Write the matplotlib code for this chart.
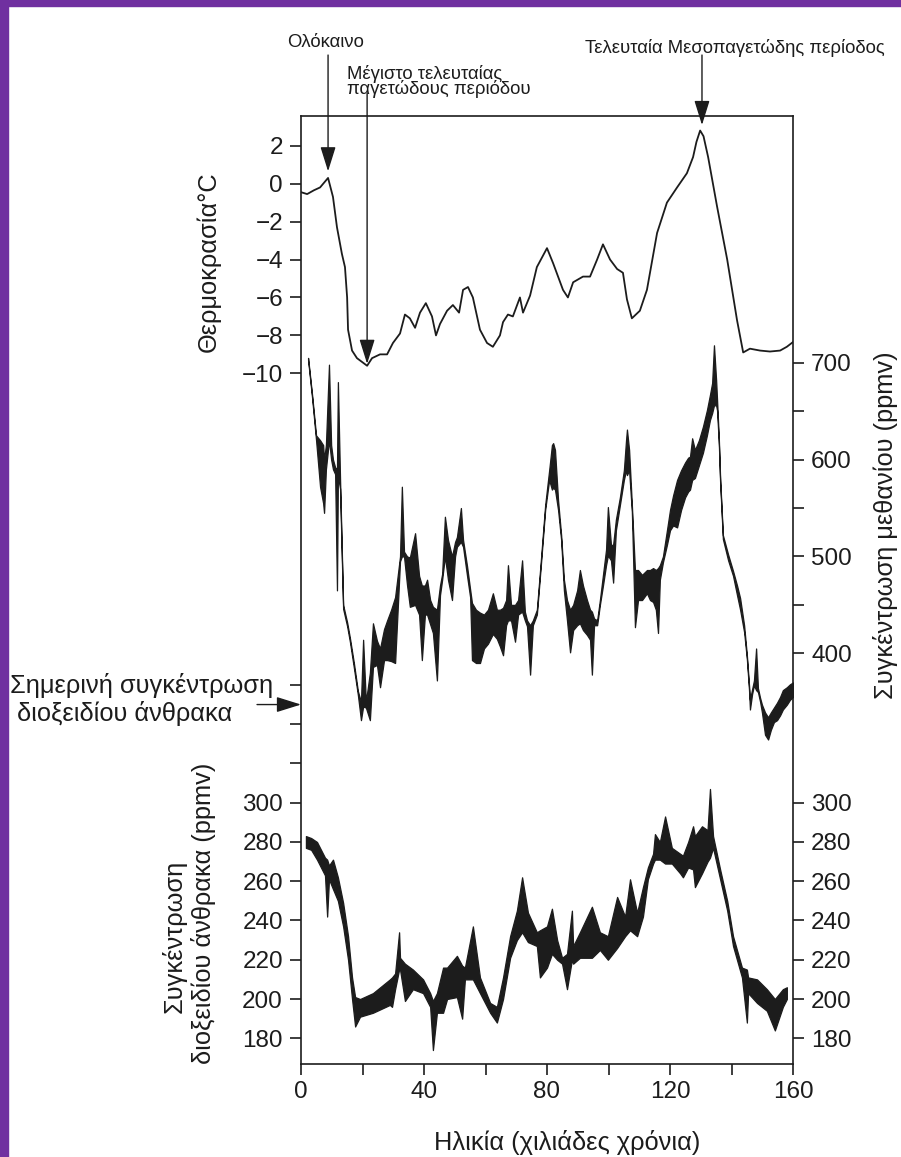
import matplotlib.pyplot as plt
from matplotlib.patches import Rectangle

plt.rcParams['font.family'] = ['Liberation Sans', 'DejaVu Sans']

# temperature (deg C) against age (thousand years)
temp_age = [0.0, 2.0, 4.2, 6.2, 8.8, 10.4, 11.7, 13.3, 14.3, 15.0, 15.3, 16.6, 18.2, 21.5, 23.1,
            25.7, 28.0, 29.9, 32.2, 33.8, 35.4, 37.1, 38.7, 40.6, 42.6, 43.9, 45.2, 47.5, 49.4,
            51.4, 52.7, 54.3, 55.9, 58.2, 60.5, 62.4, 64.7, 65.7, 67.3, 68.9, 71.2, 72.2, 74.5,
            76.7, 80.0, 82.0, 85.2, 86.8, 88.5, 91.7, 94.0, 96.3, 98.2, 100.5, 102.8, 104.7, 106.0,
            107.6, 110.2, 112.5, 115.8, 119.0, 122.3, 125.5, 127.5, 128.6, 129.8, 130.9, 132.4,
            135.3, 138.6, 141.8, 143.8, 146.0, 149.3, 152.5, 155.8, 158.0, 160.0]
temp_val = [-0.45, -0.55, -0.35, -0.2, 0.3, -0.7, -2.3, -3.7, -4.4, -6.0, -7.7, -8.8, -9.2, -9.6, -9.2,
            -9.0, -9.0, -8.4, -7.9, -6.9, -7.1, -7.6, -6.8, -6.3, -7.0, -8.0, -7.4, -6.7, -6.4,
            -6.8, -5.6, -5.45, -6.0, -7.7, -8.4, -8.6, -8.0, -7.3, -6.9, -7.0, -6.0, -6.8, -5.9,
            -4.4, -3.4, -4.2, -5.6, -6.0, -5.2, -4.9, -4.9, -4.0, -3.2, -4.0, -4.5, -4.7, -6.1,
            -7.1, -6.7, -5.6, -2.6, -1.0, -0.2, 0.55, 1.4, 2.2, 2.8, 2.5, 1.4,
            -1.2, -4.0, -7.2, -8.9, -8.7, -8.8, -8.85, -8.8, -8.6, -8.35]

# methane band (lower / upper edge)
ch4_age = [2.3, 3.6, 4.9, 6.2, 7.2, 7.5, 8.1, 9.1, 9.8, 10.4, 11.1, 11.7, 12.0, 12.7, 13.7, 15.0,
           15.9, 17.2, 18.5, 19.5, 20.2, 21.1, 22.4, 23.4, 24.7, 25.7, 27.0, 28.0, 29.3, 30.6, 32.2,
           32.8, 33.5, 34.5, 35.4, 37.1, 38.4, 39.3, 40.3, 41.0, 42.0, 42.9, 44.2, 45.2, 45.9, 46.8,
           47.8, 49.1, 50.1, 50.7, 52.0, 52.7, 54.0, 55.0, 55.6, 56.9, 58.2, 59.5, 60.8, 62.4, 63.7,
           64.7, 65.7, 66.7, 67.3, 68.3, 69.6, 70.6, 71.9, 72.8, 73.5, 74.5, 75.4, 76.7, 78.0, 79.4,
           80.7, 81.6, 82.0, 82.6, 83.6, 84.6, 85.5, 86.5, 87.5, 88.5, 89.8, 90.7, 91.7, 93.0, 94.0,
           94.6, 95.3, 96.3, 97.2, 98.2, 99.2, 99.8, 100.8, 101.5, 102.4, 103.7, 105.0, 105.7, 106.0,
           106.7, 107.6, 108.6, 109.6, 110.9, 112.5, 113.5, 114.5, 115.4, 116.1, 116.7, 117.7, 119.0,
           120.0, 121.0, 122.3, 123.6, 124.9, 125.9, 126.5, 127.2, 128.1, 129.4, 130.7, 132.0, 133.0,
           133.7, 134.3, 135.0, 135.3, 135.9, 136.3, 137.2, 138.9, 140.5, 141.8, 142.8, 144.1, 145.0,
           145.7, 146.0, 146.7, 147.3, 148.0, 148.6, 149.3, 149.9, 150.9, 151.9, 152.8, 153.8, 154.8,
           155.8, 156.7, 158.0, 159.0, 160.0]
ch4_low = [703, 664, 620, 572, 555, 545, 590, 620, 600, 590, 585, 465, 583, 570, 446, 428,
           412, 385, 357, 331, 345, 344, 331, 386, 388, 365, 393, 393, 392, 390, 495,
           500, 500, 470, 448, 450, 440, 393, 440, 440, 430, 421, 372, 460, 476, 500,
           476, 455, 500, 510, 515, 510, 480, 458, 393, 390, 390, 405, 410, 420, 415,
           407, 398, 429, 434, 434, 412, 440, 443, 434, 428, 378, 429, 440, 491, 548,
           579, 569, 571, 569, 548, 517, 465, 434, 401, 424, 429, 431, 424, 419, 414,
           378, 429, 429, 450, 470, 491, 501, 496, 473, 527, 553, 579, 589, 584,
           589, 546, 427, 455, 455, 462, 455, 453, 445, 421, 476, 494, 512,
           527, 532, 530, 548, 561, 567, 569, 579, 581, 594, 607, 625, 641,
           648, 656, 656, 651, 615, 577, 518, 496, 480, 460, 445, 422, 394,
           362, 342, 358, 367, 362, 360, 350, 339, 316, 311, 321, 329, 331,
           336, 342, 347, 352, 355]
ch4_high = [705, 667, 625, 620, 615, 600, 615, 698, 615, 600, 592, 590, 680, 580, 450, 432,
            416, 390, 361, 350, 414, 350, 380, 431, 413, 405, 425, 434, 445, 458, 500,
            572, 505, 500, 499, 524, 480, 470, 470, 476, 455, 448, 445, 470, 482, 541,
            517, 500, 515, 520, 550, 517, 490, 466, 452, 445, 442, 440, 445, 462, 445,
            445, 447, 455, 491, 450, 450, 455, 496, 443, 434, 429, 434, 445, 496, 553,
            589, 615, 617, 610, 558, 522, 476, 455, 445, 450, 465, 486, 470, 455, 445,
            443, 436, 434, 455, 481, 507, 551, 512, 512, 538, 561, 589, 620, 631,
            610, 553, 486, 486, 481, 486, 486, 488, 486, 488, 491, 500, 527,
            548, 563, 579, 589, 597, 602, 603, 622, 610, 620, 634, 651, 667,
            679, 718, 682, 662, 620, 581, 522, 502, 485, 470, 457, 429, 398,
            367, 352, 363, 372, 405, 364, 354, 347, 339, 334, 339, 344, 349,
            355, 362, 365, 368, 370]

# carbon dioxide band (lower / upper edge)
co2_age = [1.6, 3.3, 5.2, 7.8, 8.5, 9.1, 10.4, 12.0, 13.7, 15.3, 16.6, 17.6, 19.2, 23.4, 28.9, 29.6,
           30.6, 31.9, 32.2, 33.8, 36.4, 39.7, 42.0, 42.9, 44.2, 46.2, 47.5, 50.7, 52.4, 53.3, 55.9,
           58.2, 61.5, 63.7, 65.7, 68.0, 70.2, 71.9, 73.8, 76.7, 77.7, 80.0, 81.6, 83.3, 84.9, 86.5,
           88.1, 88.5, 90.7, 94.6, 97.2, 99.8, 102.8, 105.4, 107.0, 109.3, 111.2, 112.8, 114.5, 115.1,
           116.7, 118.4, 120.6, 123.3, 124.2, 125.9, 127.5, 128.1, 130.4, 132.2, 133.0, 134.0, 136.3,
           138.6, 140.5, 143.4, 145.0, 145.4, 148.3, 151.5, 154.1, 156.7, 158.0]
co2_low = [277, 276, 271, 263, 242, 261, 256, 250, 237, 220, 200, 186, 191, 193, 197, 196,
           205, 215, 215, 199, 205, 203, 196, 174, 193, 193, 200, 201, 190, 210, 210,
           203, 193, 188, 200, 221, 230, 234, 229, 227, 211, 216, 223, 220, 218, 205,
           220, 218, 221, 221, 225, 220, 226, 232, 235, 232, 242, 261, 269, 271,
           271, 269, 269, 264, 262, 267, 266, 257, 264, 270, 272, 277, 261,
           245, 227, 211, 188, 203, 198, 194, 184, 196, 200]
co2_high = [283, 282, 280, 272, 271, 268, 271, 262, 249, 232, 211, 201, 200, 203, 210, 211,
            213, 234, 221, 218, 215, 210, 203, 199, 203, 216, 216, 222, 217, 216, 237,
            211, 198, 196, 211, 232, 245, 262, 244, 234, 235, 237, 246, 230, 221, 223,
            245, 227, 234, 247, 234, 232, 252, 242, 261, 244, 257, 267, 274, 284,
            280, 293, 277, 274, 273, 280, 288, 283, 288, 286, 307, 283, 266,
            250, 232, 216, 215, 211, 210, 205, 200, 205, 206]

age_ticks = [0, 40, 80, 120, 160]
age_minor = [20, 60, 100, 140]
temp_ticks = [-10, -8, -6, -4, -2, 0, 2]
ch4_ticks = [400, 500, 600, 700]
ch4_minor = [450, 550, 650]
co2_ticks = [180, 200, 220, 240, 260, 280, 300]
co2_left_ticks = [180, 200, 220, 240, 260, 280, 300, 320, 340, 360]
co2_left_labels = [str(t) if t <= 300 else '' for t in co2_left_ticks]
present_co2 = 350

W, H = 901, 1157
ink = '#1c1c1c'
tick_fs = 17.5
big = 18.3
small = 13.3


def fx(x):
    return x / W


def fy(y):
    return 1 - y / H


fig = plt.figure(figsize=(W / 100, H / 100), dpi=100)
fig.patches.append(Rectangle((0, 0), fx(8), 1, transform=fig.transFigure, color='#7030a0', zorder=0))
fig.patches.append(Rectangle((0, fy(6)), 1, 1 - fy(6), transform=fig.transFigure, color='#7030a0', zorder=0))

ax = fig.add_axes([fx(301), fy(1064), fx(492), 948 / H])
ax.set_xlim(0, 160)
ax.set_ylim(-46.41, 3.566)
ax.plot(temp_age, temp_val, color=ink, lw=1.3, solid_joinstyle='round')
ax.set_xticks(age_ticks)
ax.set_xticks(age_minor, minor=True)
ax.set_yticks(temp_ticks)
ax.tick_params(axis='both', which='both', direction='out', length=8, width=1.2,
               colors=ink, labelsize=tick_fs)
ax.tick_params(axis='x', pad=4)
ax.tick_params(axis='y', pad=5)
for s in ax.spines.values():
    s.set_linewidth(1.2)
    s.set_color(ink)
ax.set_xlabel('Ηλικία (χιλιάδες χρόνια)', fontsize=big, color=ink)
ax.xaxis.set_label_coords((567 - 301) / 492, -0.070)
ax.set_ylabel('Θερμοκρασία°C', fontsize=big, color=ink)
ax.yaxis.set_label_coords((221 - 301) / 492, (1064 - 261.5) / 948)

ax_ch4 = ax.twinx()
ax_ch4.set_ylim(-23.96, 954.7)
ax_ch4.fill_between(ch4_age, ch4_low, ch4_high, color=ink, lw=0.9)
ax_ch4.set_yticks(ch4_ticks)
ax_ch4.set_yticks(ch4_minor, minor=True)
ax_ch4.tick_params(axis='y', which='both', direction='out', length=8, width=1.2,
                   colors=ink, labelsize=tick_fs, pad=5)
for s in ax_ch4.spines.values():
    s.set_visible(False)

ax_co2 = ax.twinx()
ax_co2.set_ylim(166.9, 649.8)
ax_co2.fill_between(co2_age, co2_low, co2_high, color=ink, lw=0.9)
ax_co2.yaxis.tick_left()
ax_co2.set_yticks(co2_left_ticks)
ax_co2.set_yticklabels(co2_left_labels)
ax_co2.tick_params(axis='y', direction='out', length=8, width=1.2, colors=ink,
                   labelsize=tick_fs, pad=5)
for s in ax_co2.spines.values():
    s.set_visible(False)
sec = ax_co2.secondary_yaxis('right')
sec.set_yticks(co2_ticks)
sec.tick_params(axis='y', direction='out', length=8, width=1.2, colors=ink,
                labelsize=tick_fs, pad=5)
sec.spines['right'].set_visible(False)

# annotations
arrow = dict(arrowstyle='-|>,head_length=0.8,head_width=0.25', color=ink, lw=1.0,
             mutation_scale=19, shrinkA=0, shrinkB=0)
fig.text(fx(326), fy(47), 'Ολόκαινο', ha='center', va='baseline', fontsize=small, color=ink)
ax.annotate('', xy=(8.8, 0.65), xytext=(8.8, 6.78), arrowprops=arrow, annotation_clip=False)
fig.text(fx(347), fy(94), 'Μέγιστο τελευταίας\nπαγετώδους περιόδου', ha='left', va='baseline',
         fontsize=small, color=ink, linespacing=0.8)
ax.annotate('', xy=(21.5, -9.5), xytext=(21.5, 4.78), arrowprops=arrow, annotation_clip=False)
fig.text(fx(735), fy(53), 'Τελευταία Μεσοπαγετώδης περίοδος', ha='center', va='baseline',
         fontsize=small, color=ink)
ax.annotate('', xy=(130.4, 3.09), xytext=(130.4, 6.78), arrowprops=arrow, annotation_clip=False)

fig.text(fx(10), fy(693), 'Σημερινή συγκέντρωση', ha='left', va='baseline', fontsize=big, color=ink)
fig.text(fx(17), fy(721), 'διοξειδίου άνθρακα', ha='left', va='baseline', fontsize=big, color=ink)
ax_co2.annotate('', xy=(0, present_co2), xytext=(-14.3, present_co2), arrowprops=arrow,
                annotation_clip=False)

fig.text(fx(174), fy(936.5), 'Συγκέντρωση', rotation=90, ha='center', va='center',
         fontsize=big, color=ink)
fig.text(fx(203), fy(913), 'διοξειδίου άνθρακα (ppmv)', rotation=90, ha='center', va='center',
         fontsize=big, color=ink)
fig.text(fx(886), fy(525), 'Συγκέντρωση μεθανίου (ppmv)', rotation=90, ha='center', va='center',
         fontsize=big, color=ink)

fig.savefig('out.png', dpi=100, facecolor='white')
